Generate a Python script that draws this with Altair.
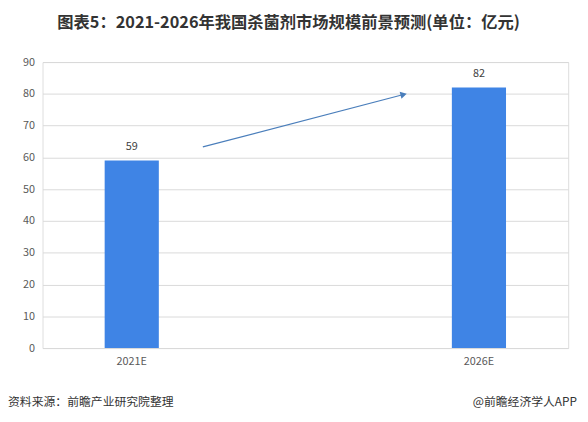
import altair as alt
import pandas as pd

years = ["2021E", "2026E"]
values = [59, 82]

# arrow annotation (x as fraction of plot width, y in data units)
arrow_x = [0.305]
arrow_x2 = [0.687]
arrow_y = [63.3]
arrow_y2 = [79.8]

title_text = "图表5：2021-2026年我国杀菌剂市场规模前景预测(单位：亿元)"
source_text = "资料来源：前瞻产业研究院整理"
brand_text = "@前瞻经济学人APP"

FONT = "Noto Sans CJK SC"

df = pd.DataFrame({"year": years, "value": values})
arr = pd.DataFrame({"x": arrow_x, "x2": arrow_x2, "y": arrow_y, "y2": arrow_y2})

W, H = 533, 290

xscale = alt.Scale(paddingInner=0.844, paddingOuter=0.179)
yscale = alt.Scale(domain=[0, 90])

x_axis = alt.Axis(title=None, labelAngle=0, domain=False, ticks=False,
                  labelFont=FONT, labelFontSize=11, labelColor="#595959",
                  labelPadding=8)
y_axis = alt.Axis(title=None, values=list(range(0, 91, 10)), domain=False,
                  ticks=False, grid=True, gridColor="#d9d9d9",
                  labelFont=FONT, labelFontSize=11, labelColor="#595959",
                  labelPadding=8)

bars = alt.Chart(df).mark_bar(color="#3f84e5").encode(
    x=alt.X("year:N", scale=xscale, sort=years, axis=x_axis),
    y=alt.Y("value:Q", scale=yscale, axis=y_axis),
)

labels = alt.Chart(df).mark_text(dy=-14, font=FONT, fontSize=11, color="#404040").encode(
    x=alt.X("year:N", scale=xscale, sort=years, axis=x_axis),
    y=alt.Y("value:Q", scale=yscale, axis=y_axis),
    text="value:Q",
)

xa = alt.Scale(domain=[0, 1])
line = alt.Chart(arr).mark_rule(color="#4a7ebb", strokeWidth=1.2).encode(
    x=alt.X("x:Q", scale=xa, axis=None),
    x2="x2:Q",
    y=alt.Y("y:Q", scale=yscale, axis=y_axis),
    y2="y2:Q",
)
head = alt.Chart(arr).mark_point(shape="triangle-right", filled=True, color="#4a7ebb",
                                 size=55, opacity=1, angle=345.5).encode(
    x=alt.X("x2:Q", scale=xa, axis=None),
    y=alt.Y("y2:Q", scale=yscale, axis=y_axis),
)

foot = alt.Chart(pd.DataFrame({"t": [source_text]})).mark_text(
    align="left", baseline="middle", font=FONT, fontSize=12, color="#333333"
).encode(x=alt.value(-35), y=alt.value(H + 55), text="t:N")
brand = alt.Chart(pd.DataFrame({"t": [brand_text]})).mark_text(
    align="right", baseline="middle", font=FONT, fontSize=12, color="#333333"
).encode(x=alt.value(542), y=alt.value(H + 55), text="t:N")

base = alt.layer(bars, labels)
arrow = alt.layer(line, head)

chart = alt.layer(base, arrow, foot, brand).resolve_scale(
    x="independent"
).properties(
    width=W, height=H,
    title=alt.TitleParams(title_text, font=FONT, fontSize=16.5, fontWeight="bold",
                          color="#333333", anchor="middle", dx=-17, offset=25),
    autosize=alt.AutoSizeParams(type="none"),
    padding={"left": 35, "top": 52, "right": 12, "bottom": 62},
).configure_view(strokeWidth=0).configure(background="white")

chart.save("out.html", embed_options={"renderer": "svg", "actions": False})
